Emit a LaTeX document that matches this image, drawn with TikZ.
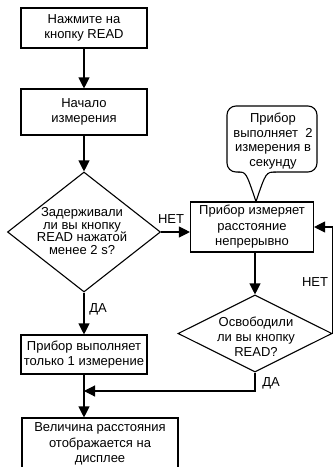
\documentclass[tikz,border=0pt]{standalone}
\usepackage{fontspec}
\setmainfont{Liberation Sans}
\usetikzlibrary{arrows.meta,shapes.geometric}
\begin{document}
\begin{tikzpicture}[x=1pt,y=-1pt,line width=1.1pt,
  box/.style={draw,rectangle,inner sep=0pt,align=center,font=\fontsize{13}{15.5}\selectfont},
  dia/.style={draw,diamond,inner sep=0pt},
  txt/.style={align=center,inner sep=0pt,font=\fontsize{13}{15}\selectfont},
  arr/.style={-{Triangle[length=11pt,width=11pt]}},
  lbl/.style={inner sep=0pt,font=\fontsize{13}{14}\selectfont}]
\useasboundingbox (0,0) rectangle (333,467);

% left column
\node[box,minimum width=126pt,minimum height=40pt] (b1) at (84,28) {Нажмите на\\кнопку READ};
\node[box,minimum width=126pt,minimum height=46pt] (b2) at (84,112) {Начало\\измерения};
\node[dia,minimum width=153pt,minimum height=120pt] (d1) at (84,232) {};
\node[txt,font=\fontsize{13}{12.5}\selectfont] (t1) at (82,231) {Задерживали\\ли вы кнопку\\READ нажатой\\менее 2 s?};
\node[box,minimum width=126pt,minimum height=39pt] (b3) at (84,354.5) {Прибор выполняет\\только 1 измерение};
\node[box,minimum width=156pt,minimum height=52pt] (b4) at (100,444) {Величина расстояния\\отображается на\\дисплее};

% right column
\node[draw,rounded corners=9pt,minimum width=90pt,minimum height=66pt,inner sep=0pt] (c) at (272,139) {};
\node[txt,font=\fontsize{13}{14.6}\selectfont] (ct) at (273,141) {Прибор\\выполняет~ 2\\измерения в\\секунду};
\coordinate (tip) at (256,201.5);
\fill[white] (238,171) -- (238,172) .. controls (246,172) .. (tip) .. controls (266,172) .. (276,172) -- (276,171) -- cycle;
\draw (238,172) .. controls (246,172) .. (tip);
\draw (276,172) .. controls (266,172) .. (tip);

\node[box,minimum width=123pt,minimum height=50pt] (b5) at (252,227) {Прибор измеряет\\расстояние\\непрерывно};
\node[dia,minimum width=154pt,minimum height=77pt] (d2) at (255,333.5) {};
\node[txt] (t2) at (256,337) {Освободили\\ли вы кнопку\\READ?};

% connectors
\draw[arr] (b1.south) -- (b2.north);
\draw[arr] (b2.south) -- (d1.north);
\draw[arr] (d1.south) -- (b3.north);
\draw[arr] (d1.east) -- (b5.west |- d1.east);
\draw[arr] (b5.south -| d2.north) -- (d2.north);
\draw[arr] (d2.east) -- (d2.east |- b5.east) -- (b5.east);
\coordinate (m) at (84,391);
\draw[arr] (d2.south) |- (m);
\draw[arr] (b3.south) -- (b3.south |- b4.north);

% labels
\node[lbl] (l1) at (171,219) {НЕТ};
\node[lbl] (l2) at (98,309) {ДА};
\node[lbl] (l3) at (315,282) {НЕТ};
\node[lbl] (l4) at (271,383) {ДА};
\end{tikzpicture}
\end{document}
